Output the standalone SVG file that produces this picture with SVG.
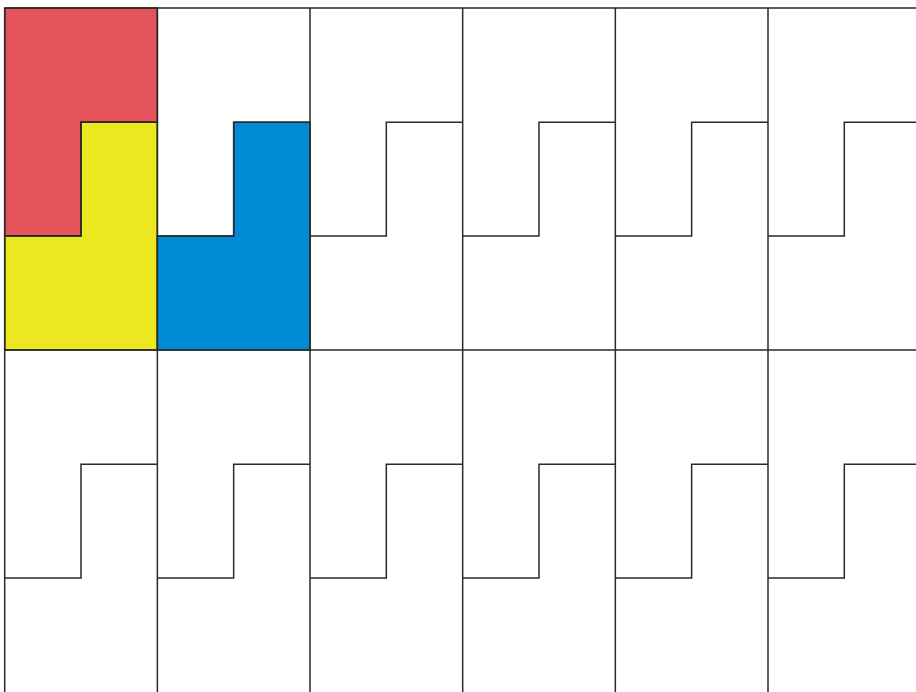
<svg xmlns="http://www.w3.org/2000/svg" width="916" height="692" viewBox="0 0 916 692">
<style>
.ln{fill:none;stroke:#2a2a2a;stroke-width:1.5;stroke-linejoin:miter}
.tile{stroke:#2a2a2a;stroke-width:1.5;stroke-linejoin:miter}
</style>
<defs>
<path id="step" d="M0,228 H76.3 V114.3 H152.66"/>
</defs>
<rect width="916" height="692" fill="#ffffff"/>
<g id="tile-red"><path class="tile" fill="#e5535b" d="M4.7,8 H157.36 V122.3 H81 V236 H4.7 Z"/></g>
<g id="tile-yellow"><path class="tile" fill="#ebe81f" d="M81,122.3 H157.36 V350 H4.7 V236 H81 Z"/></g>
<g id="tile-blue"><path class="tile" fill="#008cd4" d="M233.7,122.3 H310.02 V350 H157.36 V236 H233.7 Z"/></g>
<g id="grid" class="ln">
<path d="M4.7,8 H916 M4.7,350 H916"/>
<path d="M4.7,8 V692 M157.36,8 V692 M310.02,8 V692 M462.68,8 V692 M615.34,8 V692 M768,8 V692"/>
<use href="#step" x="4.7" y="8"/>
<use href="#step" x="157.36" y="8"/>
<use href="#step" x="310.02" y="8"/>
<use href="#step" x="462.68" y="8"/>
<use href="#step" x="615.34" y="8"/>
<use href="#step" x="768" y="8"/>
<use href="#step" x="4.7" y="350"/>
<use href="#step" x="157.36" y="350"/>
<use href="#step" x="310.02" y="350"/>
<use href="#step" x="462.68" y="350"/>
<use href="#step" x="615.34" y="350"/>
<use href="#step" x="768" y="350"/>
</g>
</svg>
